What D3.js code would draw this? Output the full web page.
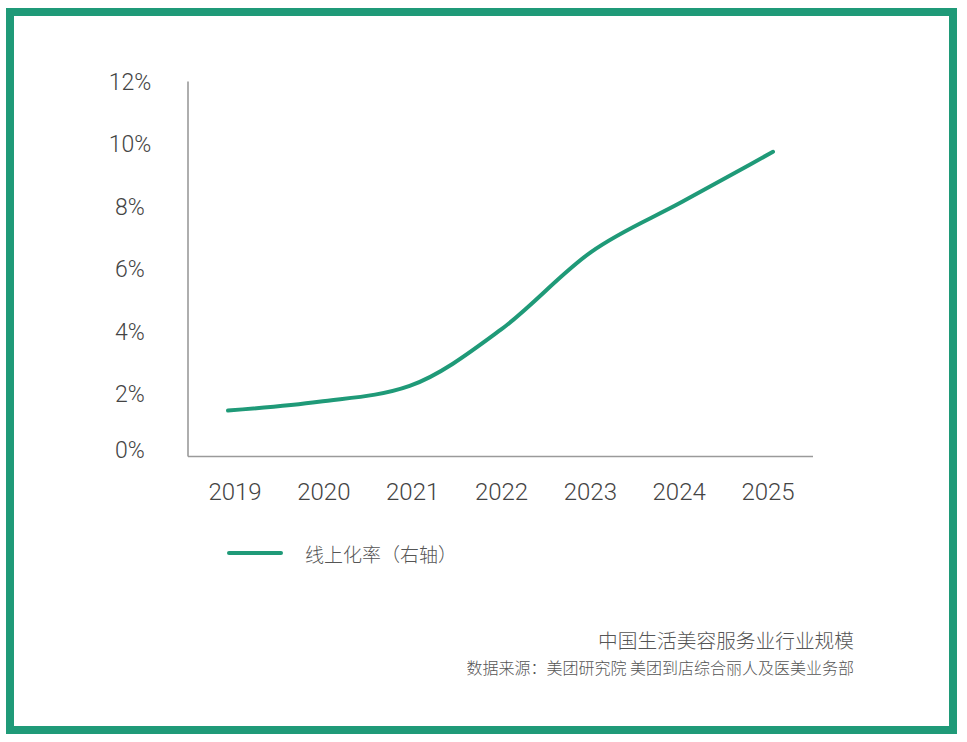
<!DOCTYPE html>
<html>
<head>
<meta charset="utf-8">
<script src="https://cdn.jsdelivr.net/npm/d3@7"></script>
<style>
  html, body { margin: 0; padding: 0; background: #fff; }
  svg { display: block; font-family: "Noto Sans CJK SC", "Noto Sans", sans-serif; }
  .num { font-family: Roboto, "Liberation Sans", sans-serif; font-weight: 300; }
</style>
</head>
<body>
<svg id="chart" width="967" height="742"></svg>
<script>
const years = ["2019", "2020", "2021", "2022", "2023", "2024", "2025"];
const onlineRate = [1.47, 1.75, 2.26, 4.05, 6.55, 8.15, 9.75];
const yTicks = [0, 2, 4, 6, 8, 10, 12];
const legendLabel = "线上化率（右轴）";
const titleText = "中国生活美容服务业行业规模";
const sourceText = "数据来源：美团研究院 美团到店综合丽人及医美业务部";

const green = "#1f9a78";
const svg = d3.select("#chart");

// frame
svg.append("rect")
  .attr("x", 10).attr("y", 12).attr("width", 943).attr("height", 718)
  .attr("fill", "#fff").attr("stroke", green).attr("stroke-width", 8);

const x = d3.scalePoint().domain(years).range([228, 773]);
const xLabel = d3.scalePoint().domain(years).range([235, 768]);
const y = d3.scaleLinear().domain([0, 12]).range([456.5, 81.5]);

// axes lines
const axisColor = "#9a9a9a";
svg.append("line").attr("x1", 188).attr("x2", 188).attr("y1", y(12)).attr("y2", y(0))
  .attr("stroke", axisColor).attr("stroke-width", 1.6);
svg.append("line").attr("x1", 188).attr("x2", 813).attr("y1", y(0)).attr("y2", y(0))
  .attr("stroke", axisColor).attr("stroke-width", 1.6);

// y labels
svg.append("g").selectAll("text").data(yTicks).join("text")
  .attr("class", "num")
  .attr("x", 130)
  .attr("y", d => y(d) + 8 - (d === 0 ? 7 : 0))
  .attr("text-anchor", "middle")
  .attr("font-size", 23)
  .attr("fill", "#444")
  .text(d => d + "%");

// x labels
svg.append("g").selectAll("text").data(years).join("text")
  .attr("class", "num")
  .attr("x", d => xLabel(d))
  .attr("y", 500)
  .attr("text-anchor", "middle")
  .attr("font-size", 24)
  .attr("fill", "#444")
  .text(d => d);

// line
const line = d3.line()
  .x((d, i) => x(years[i]))
  .y(d => y(d))
  .curve(d3.curveMonotoneX);
svg.append("path")
  .datum(onlineRate)
  .attr("d", line)
  .attr("fill", "none")
  .attr("stroke", green)
  .attr("stroke-width", 4)
  .attr("stroke-linecap", "round")
  .attr("stroke-linejoin", "round");

// legend
svg.append("line").attr("x1", 229).attr("x2", 281).attr("y1", 553).attr("y2", 553)
  .attr("stroke", green).attr("stroke-width", 4).attr("stroke-linecap", "round");
svg.append("text").attr("x", 305).attr("y", 553)
  .attr("dominant-baseline", "central")
  .attr("font-size", 19).attr("font-weight", 300).attr("fill", "#555")
  .text(legendLabel);

// footer
svg.append("text").attr("x", 854).attr("y", 639)
  .attr("text-anchor", "end").attr("dominant-baseline", "central")
  .attr("font-size", 19.7).attr("font-weight", 300).attr("fill", "#555")
  .text(titleText);
svg.append("text").attr("x", 854).attr("y", 667)
  .attr("text-anchor", "end").attr("dominant-baseline", "central")
  .attr("font-size", 16).attr("font-weight", 300).attr("fill", "#555")
  .text(sourceText);
</script>
</body>
</html>
